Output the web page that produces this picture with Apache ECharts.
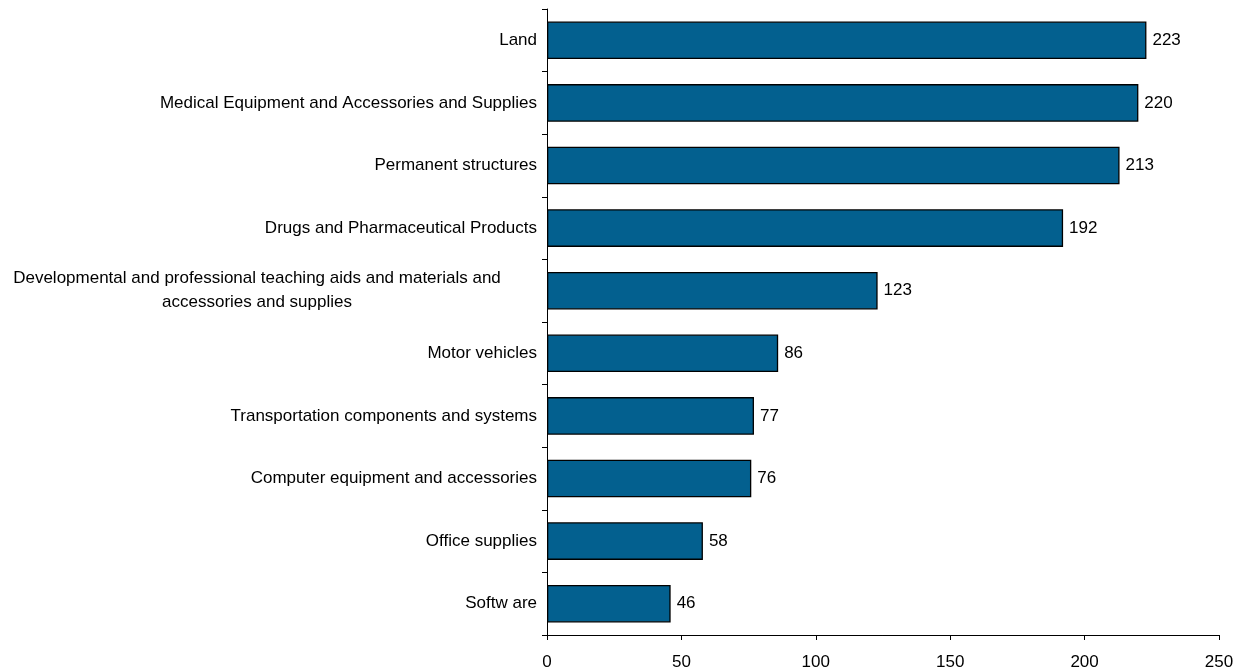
<!DOCTYPE html>
<html>
<head>
<meta charset="utf-8">
<script src="https://cdn.jsdelivr.net/npm/echarts@6/dist/echarts.min.js"></script>
<style>
  html, body { margin: 0; padding: 0; background: #ffffff; }
  #chart { width: 1244px; height: 671px; }
</style>
</head>
<body>
<div id="chart"></div>
<script>
// Categories listed bottom-to-top (category axis grows upward)
const categories = [
  'Softw are',
  'Office supplies',
  'Computer equipment and accessories',
  'Transportation components and systems',
  'Motor vehicles',
  'Developmental and professional teaching aids and materials and\naccessories and supplies',
  'Drugs and Pharmaceutical Products',
  'Permanent structures',
  'Medical Equipment and Accessories and Supplies',
  'Land'
];
const values = [46, 58, 76, 77, 86, 123, 192, 213, 220, 223];
const xTicks = [0, 50, 100, 150, 200, 250];

const FONT = 'Liberation Sans, Arial, sans-serif';
const SIZE = 17;
const chart = echarts.init(document.getElementById('chart'));

chart.setOption({
  animation: false,
  grid: {
    left: 547, right: 25, top: 9, bottom: 36,
    containLabel: false,
    outerBoundsMode: 'none'
  },
  xAxis: {
    type: 'value',
    min: xTicks[0],
    max: xTicks[xTicks.length - 1],
    interval: xTicks[1] - xTicks[0],
    splitLine: { show: false },
    axisLine: { show: true, lineStyle: { color: '#000', width: 1 } },
    axisTick: { show: true, length: 5, lineStyle: { color: '#000' } },
    axisLabel: { color: '#000', fontFamily: FONT, fontSize: SIZE, margin: 19 }
  },
  yAxis: {
    type: 'category',
    data: categories,
    axisLine: { show: true, lineStyle: { color: '#000', width: 1 } },
    axisTick: { show: true, length: 5, lineStyle: { color: '#000' } },
    axisLabel: {
      color: '#000',
      fontFamily: FONT,
      fontSize: SIZE,
      margin: 10,
      lineHeight: 24,
      // wrapped labels are centred line by line inside a fixed-width box
      formatter: function (v) {
        if (v.indexOf('\n') < 0) return v;
        return v.split('\n').map(function (l) { return '{c|' + l + '}'; }).join('\n');
      },
      rich: {
        c: { width: 560, align: 'center', color: '#000', fontFamily: FONT, fontSize: SIZE, lineHeight: 24 }
      }
    }
  },
  series: [{
    type: 'bar',
    data: values,
    barCategoryGap: '40%',
    itemStyle: { color: '#03608F', borderColor: '#000', borderWidth: 1.3 },
    label: {
      show: true,
      position: 'right',
      distance: 6,
      color: '#000',
      fontFamily: FONT,
      fontSize: SIZE
    }
  }]
});
</script>
</body>
</html>
